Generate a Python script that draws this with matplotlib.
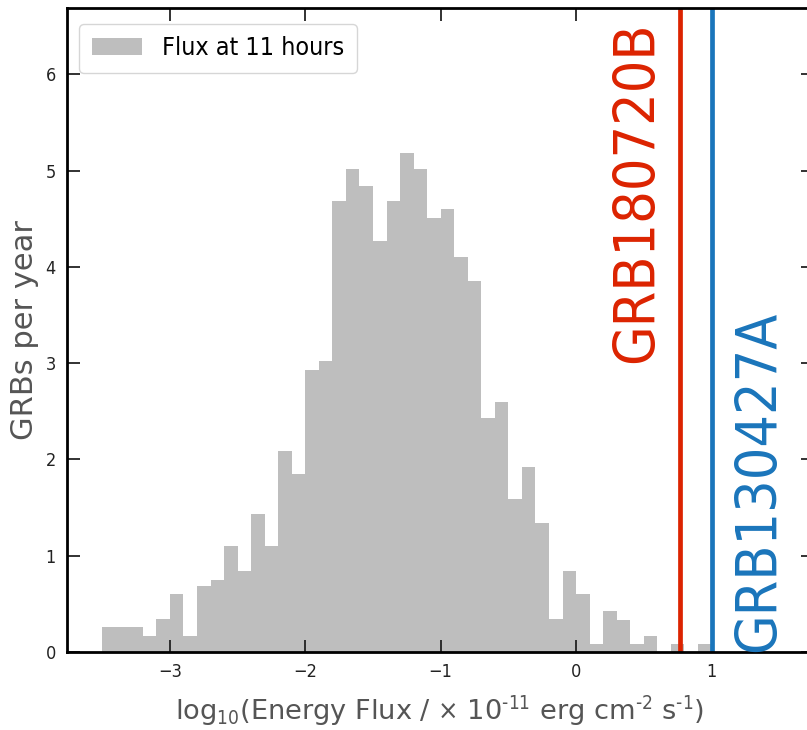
import numpy as np
import matplotlib
matplotlib.use('Agg')
import matplotlib.pyplot as plt

# histogram: GRBs per year in log10 flux bins of 0.1
bin_left = np.round(np.arange(-3.5, 1.0, 0.1), 1)
rate = [0.26, 0.26, 0.26, 0.17, 0.34, 0.60, 0.17, 0.68, 0.75, 1.10,
        0.84, 1.43, 1.10, 2.09, 1.85, 2.93, 3.02, 4.68, 5.02, 4.84,
        4.27, 4.68, 5.18, 5.02, 4.51, 4.60, 4.10, 3.85, 2.43, 2.60,
        1.59, 1.92, 1.34, 0.34, 0.84, 0.60, 0.08, 0.42, 0.33, 0.08,
        0.17, 0.00, 0.08, 0.00, 0.08]
bin_width = 0.1

grb_names = ['GRB180720B', 'GRB130427A']
grb_flux = [0.77, 1.0]
grb_colors = ['#dc2300', '#1a75bb']

plt.rcParams['font.family'] = ['DejaVu Sans']
plt.rcParams['font.stretch'] = 'condensed'

fig = plt.figure(figsize=(8.07, 7.30), dpi=100)
ax = fig.add_axes([0.083, 0.107, 0.9245, 0.882])

ax.bar(bin_left, rate, width=bin_width, align='edge', color='#bebebe',
       linewidth=0, label='Flux at 11 hours')

for x, c in zip(grb_flux, grb_colors):
    ax.axvline(x, color=c, lw=3.4)

ax.text(0.655, 6.55, grb_names[0], rotation=90, ha='right', va='top',
        color=grb_colors[0], fontsize=41)
ax.text(1.15, 0.0, grb_names[1], rotation=90, ha='left', va='bottom',
        color=grb_colors[1], fontsize=41)

ax.set_xlim(-3.76, 1.75)
ax.set_ylim(0, 6.69)
ax.set_xticks([-3, -2, -1, 0, 1])
ax.set_yticks([0, 1, 2, 3, 4, 5, 6])
ax.tick_params(direction='in', length=9, width=1.3, top=True, right=True,
               labelsize=13, pad=8, colors='#222222')
for s in ax.spines.values():
    s.set_linewidth(2)

ax.set_xlabel(r'log$_{10}$(Energy Flux / $\times$ 10$^{\text{-11}}$ erg cm$^{\text{-2}}$ s$^{\text{-1}}$)',
              fontsize=19.6, color='#555555', labelpad=9, fontstretch='normal')
ax.set_ylabel('GRBs per year', fontsize=22, color='#555555', labelpad=5,
              fontstretch='normal')

ax.legend(loc='upper left', fontsize=18, frameon=True, borderpad=0.5,
          handlelength=2.0, bbox_to_anchor=(0.0, 0.995))

fig.savefig('out.png', dpi=100)
